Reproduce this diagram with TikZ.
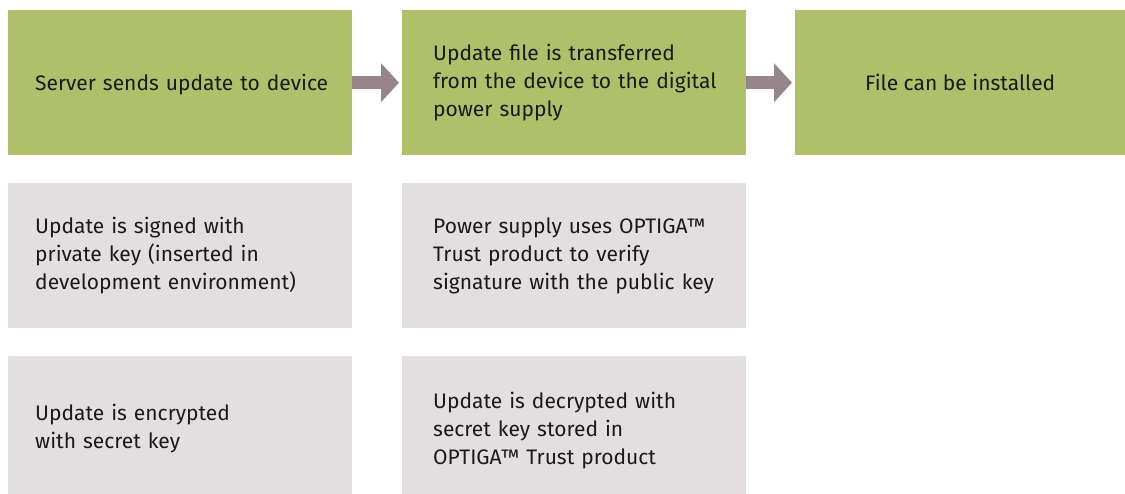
\documentclass[tikz,border=0pt]{standalone}
\usepackage{fontspec}
\setmainfont{Fira Sans}
\usetikzlibrary{arrows.meta}
\definecolor{boxgreen}{RGB}{174,193,106}
\definecolor{boxgray}{RGB}{227,223,224}
\definecolor{arrowc}{RGB}{150,133,138}
\definecolor{txt}{RGB}{26,26,26}
\newcommand{\oneline}[1]{\mbox{#1}}
\tikzset{
  stepbox/.style={anchor=north west, minimum width=344pt, minimum height=145pt,
    inner ysep=0pt, align=left, text=txt,
    font=\fontsize{21}{28}\selectfont},
  colone/.style={inner xsep=27pt, text width=290pt},
  coltwo/.style={inner xsep=31pt, text width=282pt},
  green/.style={fill=boxgreen},
  gray/.style={fill=boxgray},
  flowarrow/.style={draw=arrowc, line width=13pt, shorten >=3pt,
    -{Triangle[length=18pt,width=38pt]}}
}
\begin{document}
\begin{tikzpicture}[x=1pt,y=-1pt]
\useasboundingbox (0,0) rectangle (1125,494);
\clip (0,0) rectangle (1125,494);
\node[stepbox,colone,green] (a1) at (8,10) {\rule{0pt}{21pt}\oneline{Server sends update to device}};
\node[stepbox,coltwo,green] (a2) at (402,10) {\oneline{Update file is transferred}\\\oneline{from the device to the digital}\\\oneline{power supply}};
\node[stepbox,green,minimum width=330pt,align=center] (a3) at (795,10) {File can be installed};
\node[stepbox,colone,gray] (b1) at (8,183) {\oneline{Update is signed with}\\\oneline{private key (inserted in}\\\oneline{development environment)}};
\node[stepbox,coltwo,gray] (b2) at (402,183) {\oneline{Power supply uses OPTIGA™}\\\oneline{Trust product to verify}\\\oneline{signature with the public key}};
\node[stepbox,colone,gray] (c1) at (8,356) {\oneline{Update is encrypted}\\\oneline{with secret key}};
\node[stepbox,coltwo,gray] (c2) at (402,356) {\rule{0pt}{20pt}\oneline{Update is decrypted with}\\\oneline{secret key stored in}\\\oneline{OPTIGA™ Trust product}};
\draw[flowarrow] (a1.east) -- (a2.west);
\draw[flowarrow] (a2.east) -- (a3.west);
\end{tikzpicture}
\end{document}
